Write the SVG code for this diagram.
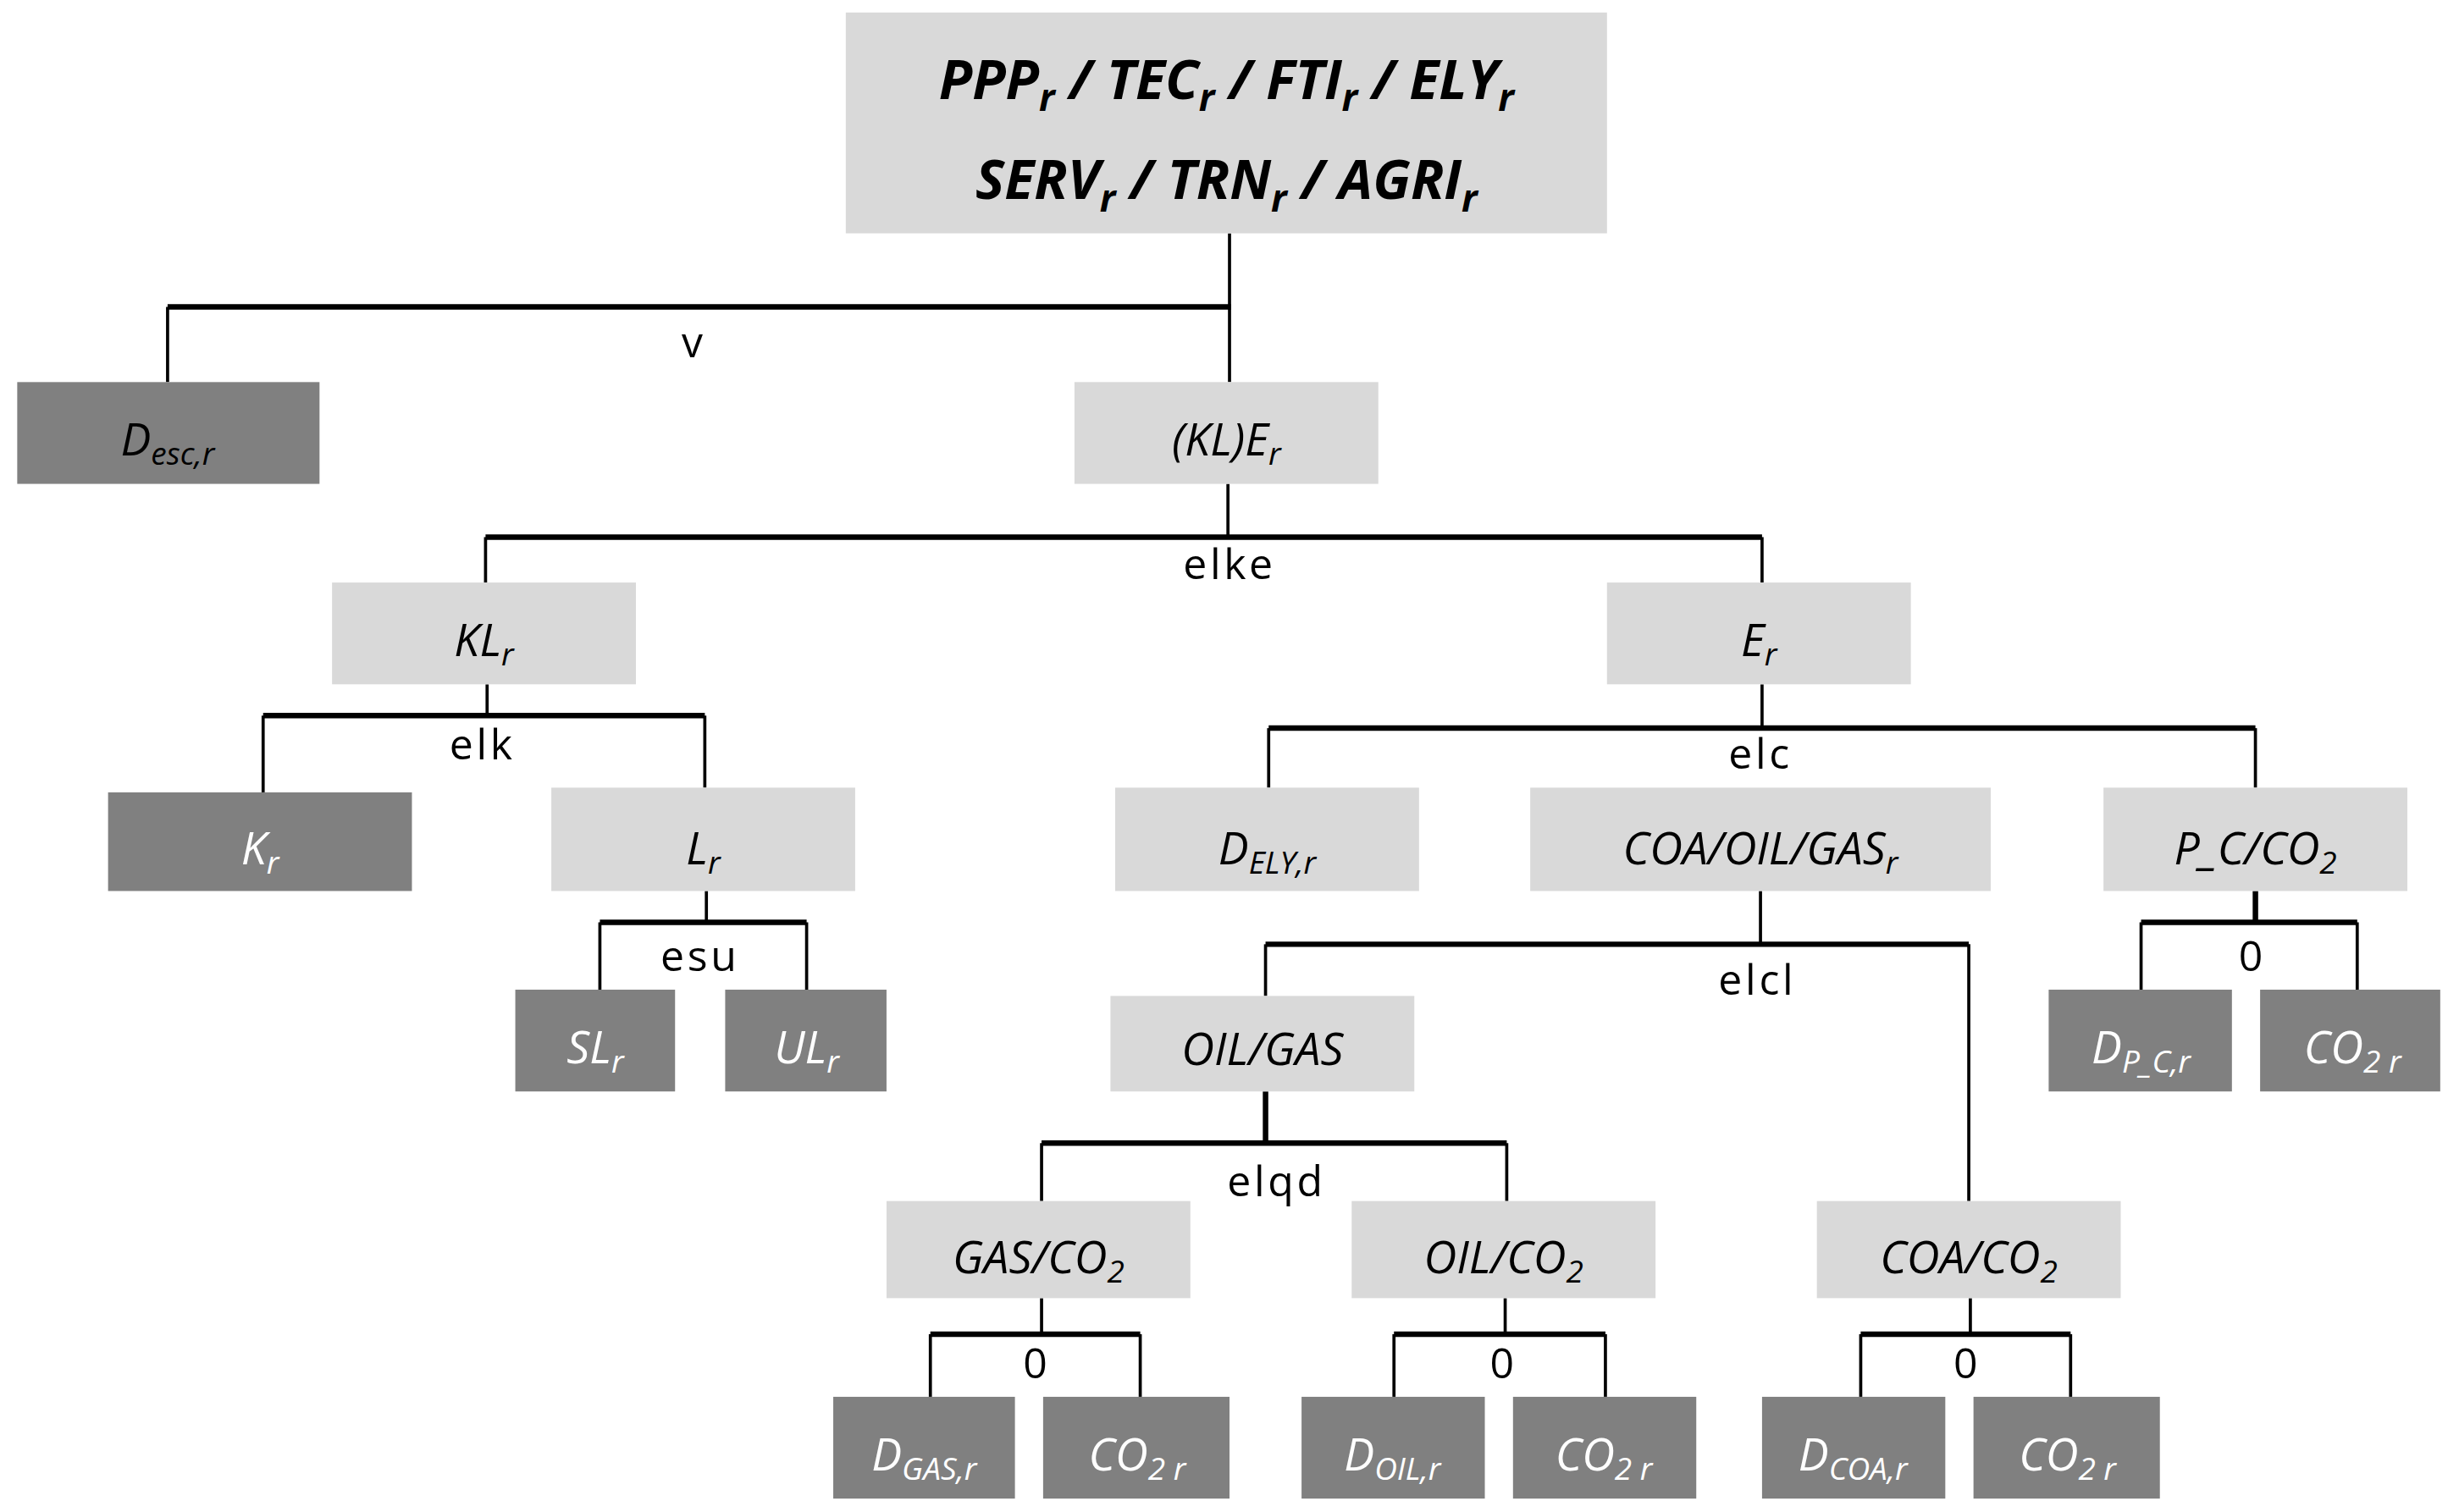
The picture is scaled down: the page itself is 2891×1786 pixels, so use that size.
<svg xmlns="http://www.w3.org/2000/svg" width="2891" height="1786" viewBox="0 0 2891 1786">
<style>
.l{fill:#d9d9d9}.d{fill:#808080}
.t{font-family:"Open Sans","Liberation Sans",sans-serif;font-style:italic;font-size:29px;text-anchor:middle;fill:#000}
.w{fill:#fff}
.s{font-size:20px}
.b{font-weight:bold;font-size:35px}
.bs{font-size:24px}
.c line{stroke:#000;stroke-width:2}
.c .k{stroke-width:3.5}
.lab{font-family:"Open Sans","Liberation Sans",sans-serif;font-size:27px;text-anchor:middle;fill:#000;letter-spacing:2px}
</style>
<rect width="2891" height="1786" fill="#fff"/>
<g transform="scale(1.8497)">
<g class="c">
<line x1="785" y1="149" x2="785" y2="196"/><line class="k" x1="107" y1="196" x2="786" y2="196"/><line x1="107" y1="196" x2="107" y2="244"/><line x1="785" y1="196" x2="785" y2="244"/>
<line x1="784" y1="309" x2="784" y2="343"/><line class="k" x1="310" y1="343" x2="1125" y2="343"/><line x1="310" y1="343" x2="310" y2="372"/><line x1="1125" y1="343" x2="1125" y2="372"/>
<line x1="311" y1="437" x2="311" y2="457"/><line class="k" x1="168" y1="457" x2="450" y2="457"/><line x1="168" y1="457" x2="168" y2="506"/><line x1="450" y1="457" x2="450" y2="503"/>
<line x1="1125" y1="437" x2="1125" y2="465"/><line class="k" x1="810" y1="465" x2="1440" y2="465"/><line x1="810" y1="465" x2="810" y2="503"/><line x1="1440" y1="465" x2="1440" y2="503"/>
<line x1="451" y1="569" x2="451" y2="589"/><line class="k" x1="383" y1="589" x2="515" y2="589"/><line x1="383" y1="589" x2="383" y2="632"/><line x1="515" y1="589" x2="515" y2="632"/>
<line x1="1124" y1="569" x2="1124" y2="603"/><line class="k" x1="808" y1="603" x2="1257" y2="603"/><line x1="808" y1="603" x2="808" y2="636"/><line x1="1257" y1="603" x2="1257" y2="767"/>
<line class="k" x1="1440" y1="569" x2="1440" y2="589"/><line class="k" x1="1367" y1="589" x2="1505" y2="589"/><line x1="1367" y1="589" x2="1367" y2="632"/><line x1="1505" y1="589" x2="1505" y2="632"/>
<line class="k" x1="808" y1="697" x2="808" y2="730"/><line class="k" x1="665" y1="730" x2="962" y2="730"/><line x1="665" y1="730" x2="665" y2="767"/><line x1="962" y1="730" x2="962" y2="767"/>
<line x1="665" y1="829" x2="665" y2="852"/><line class="k" x1="594" y1="852" x2="728" y2="852"/><line x1="594" y1="852" x2="594" y2="892"/><line x1="728" y1="852" x2="728" y2="892"/>
<line x1="961" y1="829" x2="961" y2="852"/><line class="k" x1="890" y1="852" x2="1025" y2="852"/><line x1="890" y1="852" x2="890" y2="892"/><line x1="1025" y1="852" x2="1025" y2="892"/>
<line x1="1258" y1="829" x2="1258" y2="852"/><line class="k" x1="1188" y1="852" x2="1322" y2="852"/><line x1="1188" y1="852" x2="1188" y2="892"/><line x1="1322" y1="852" x2="1322" y2="892"/>
<text class="lab" x="443" y="228">v</text><text class="lab" x="785" y="370">elke</text><text class="lab" x="308" y="485">elk</text><text class="lab" x="1124" y="491">elc</text><text class="lab" x="447" y="620">esu</text><text class="lab" x="1122" y="635">elcl</text><text class="lab" x="1438" y="620">0</text><text class="lab" x="815" y="764">elqd</text><text class="lab" x="662" y="880">0</text><text class="lab" x="960" y="880">0</text><text class="lab" x="1256" y="880">0</text>
</g>
<g id="top"><rect class="l" x="540" y="8" width="486" height="141"/><text class="t b" x="783" y="63">PPP<tspan class="bs" dy="8">r</tspan><tspan dy="-8"> / TEC</tspan><tspan class="bs" dy="8">r</tspan><tspan dy="-8"> / FTI</tspan><tspan class="bs" dy="8">r</tspan><tspan dy="-8"> / ELY</tspan><tspan class="bs" dy="8">r</tspan></text><text class="t b" x="783" y="127">SERV<tspan class="bs" dy="8">r</tspan><tspan dy="-8"> / TRN</tspan><tspan class="bs" dy="8">r</tspan><tspan dy="-8"> / AGRI</tspan><tspan class="bs" dy="8">r</tspan></text></g>
<g id="desc"><rect class="d" x="11" y="244" width="193" height="65"/><text class="t" x="107" y="291">D<tspan class="s" dy="6">esc,r</tspan></text></g>
<g id="kle"><rect class="l" x="686" y="244" width="194" height="65"/><text class="t" x="783" y="291">(KL)E<tspan class="s" dy="6">r</tspan></text></g>
<g id="kl"><rect class="l" x="212" y="372" width="194" height="65"/><text class="t" x="309" y="419">KL<tspan class="s" dy="6">r</tspan></text></g>
<g id="e"><rect class="l" x="1026" y="372" width="194" height="65"/><text class="t" x="1123" y="419">E<tspan class="s" dy="6">r</tspan></text></g>
<g id="k"><rect class="d" x="69" y="506" width="194" height="63"/><text class="t w" x="166" y="552">K<tspan class="s" dy="6">r</tspan></text></g>
<g id="lr"><rect class="l" x="352" y="503" width="194" height="66"/><text class="t" x="449" y="552">L<tspan class="s" dy="6">r</tspan></text></g>
<g id="dely"><rect class="l" x="712" y="503" width="194" height="66"/><text class="t" x="809" y="552">D<tspan class="s" dy="6">ELY,r</tspan></text></g>
<g id="cog"><rect class="l" x="977" y="503" width="294" height="66"/><text class="t" x="1124" y="552">COA/OIL/GAS<tspan class="s" dy="6">r</tspan></text></g>
<g id="pc"><rect class="l" x="1343" y="503" width="194" height="66"/><text class="t" x="1440" y="552">P_C/CO<tspan class="s" dy="6">2</tspan></text></g>
<g id="sl"><rect class="d" x="329" y="632" width="102" height="65"/><text class="t w" x="380" y="679">SL<tspan class="s" dy="6">r</tspan></text></g>
<g id="ul"><rect class="d" x="463" y="632" width="103" height="65"/><text class="t w" x="515" y="679">UL<tspan class="s" dy="6">r</tspan></text></g>
<g id="dpc"><rect class="d" x="1308" y="632" width="117" height="65"/><text class="t w" x="1367" y="679">D<tspan class="s" dy="6">P_C,r</tspan></text></g>
<g id="co2pc"><rect class="d" x="1443" y="632" width="115" height="65"/><text class="t w" x="1502" y="679">CO<tspan class="s" dy="6">2 r</tspan></text></g>
<g id="oilgas"><rect class="l" x="709" y="636" width="194" height="61"/><text class="t" x="806" y="680">OIL/GAS</text></g>
<g id="gasco2"><rect class="l" x="566" y="767" width="194" height="62"/><text class="t" x="663" y="813">GAS/CO<tspan class="s" dy="6">2</tspan></text></g>
<g id="oilco2"><rect class="l" x="863" y="767" width="194" height="62"/><text class="t" x="960" y="813">OIL/CO<tspan class="s" dy="6">2</tspan></text></g>
<g id="coaco2"><rect class="l" x="1160" y="767" width="194" height="62"/><text class="t" x="1257" y="813">COA/CO<tspan class="s" dy="6">2</tspan></text></g>
<g id="dgas"><rect class="d" x="532" y="892" width="116" height="65"/><text class="t w" x="590" y="939">D<tspan class="s" dy="6">GAS,r</tspan></text></g>
<g id="co2g"><rect class="d" x="666" y="892" width="119" height="65"/><text class="t w" x="726" y="939">CO<tspan class="s" dy="6">2 r</tspan></text></g>
<g id="doil"><rect class="d" x="831" y="892" width="117" height="65"/><text class="t w" x="889" y="939">D<tspan class="s" dy="6">OIL,r</tspan></text></g>
<g id="co2o"><rect class="d" x="966" y="892" width="117" height="65"/><text class="t w" x="1024" y="939">CO<tspan class="s" dy="6">2 r</tspan></text></g>
<g id="dcoa"><rect class="d" x="1125" y="892" width="117" height="65"/><text class="t w" x="1183" y="939">D<tspan class="s" dy="6">COA,r</tspan></text></g>
<g id="co2c"><rect class="d" x="1260" y="892" width="119" height="65"/><text class="t w" x="1320" y="939">CO<tspan class="s" dy="6">2 r</tspan></text></g>
</g>
</svg>
